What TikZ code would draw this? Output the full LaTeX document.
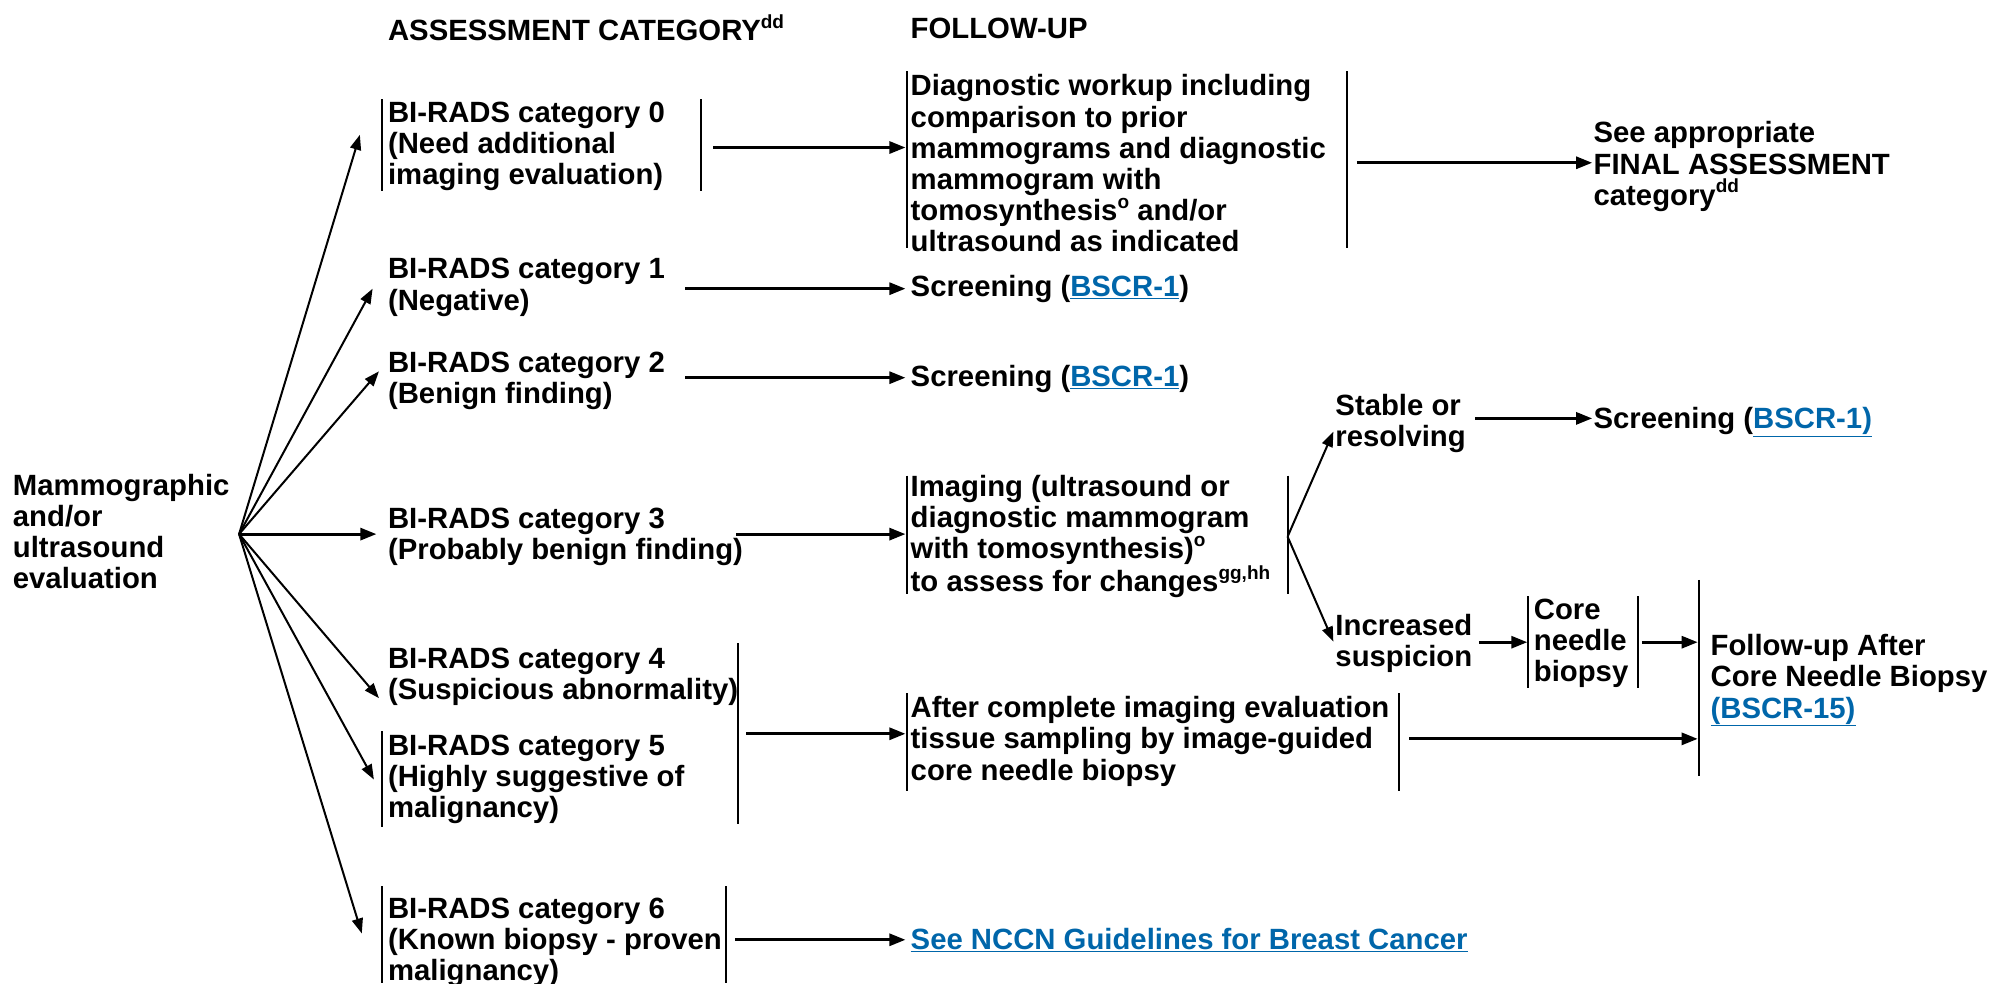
\documentclass[tikz,border=0pt]{standalone}
\usepackage{fontspec}
\setmainfont{Liberation Sans}
\usetikzlibrary{arrows.meta}
\definecolor{linkblue}{RGB}{0,102,170}
\newcommand{\lnk}[1]{\textcolor{linkblue}{\underline{#1}}}
\newcommand{\sups}[1]{\raisebox{0.42em}{\fontsize{19}{19}\selectfont #1}}
\begin{document}
\begin{tikzpicture}[x=1.2717pt,y=-1.2717pt,
  txt/.style={anchor=west,align=left,inner sep=0pt,font=\fontsize{29.3}{31.2}\selectfont\bfseries},
  bar/.style={line width=2pt},
  arr/.style={line width=2.8pt,-{Triangle[length=16pt,width=12pt]}},
  fanarr/.style={line width=2pt,-{Triangle[length=15pt,width=11pt]}}]
\useasboundingbox (0,0) rectangle (1568,773);

% headers
\node[txt] (h1) at (305,22) {ASSESSMENT CATEGORY\sups{dd}};
\node[txt] (h2) at (716,22) {FOLLOW-UP};

% source
\node[txt] (src) at (10,418) {Mammographic\\and/or\\ultrasound\\evaluation};
\coordinate (fan) at (188,420);

% categories
\node[txt] (c0) at (305,115) {BI-RADS category 0\\(Need additional\\imaging evaluation)};
\node[txt] (c1) at (305,226) {BI-RADS category 1\\(Negative)};
\node[txt] (c2) at (305,299.5) {BI-RADS category 2\\(Benign finding)};
\node[txt] (c3) at (305,422) {BI-RADS category 3\\(Probably benign finding)};
\node[txt] (c4) at (305,532) {BI-RADS category 4\\(Suspicious abnormality)};
\node[txt] (c5) at (305,613) {BI-RADS category 5\\(Highly suggestive of\\malignancy)};
\node[txt] (c6) at (305,741) {BI-RADS category 6\\(Known biopsy - proven\\malignancy)};

% follow-up
\node[txt] (dg) at (716,128.5) {Diagnostic workup including\\comparison to prior\\mammograms and diagnostic\\mammogram with\\tomosynthesis\sups{o} and/or\\ultrasound as indicated};
\node[txt] (fa) at (1253,131) {See appropriate\\FINAL ASSESSMENT\\category\sups{dd}};
\node[txt] (s1) at (716,227) {Screening (\lnk{BSCR-1})};
\node[txt] (s2) at (716,298) {Screening (\lnk{BSCR-1})};
\node[txt] (im) at (716,422) {Imaging (ultrasound or\\diagnostic mammogram\\with tomosynthesis)\sups{o}\\to assess for changes\sups{gg,hh}};
\node[txt] (st) at (1050,333) {Stable or\\resolving};
\node[txt] (s3) at (1253,332) {Screening (\lnk{BSCR-1)}};
\node[txt] (inc) at (1050,506) {Increased\\suspicion};
\node[txt] (cnb) at (1206,506) {Core\\needle\\biopsy};
\node[txt] (fu) at (1345,535) {Follow-up After\\Core Needle Biopsy\\\lnk{(BSCR-15)}};
\node[txt] (af) at (716,583) {After complete imaging evaluation\\tissue sampling by image-guided\\core needle biopsy};
\node[txt] (nccn) at (716,739) {\lnk{See NCCN Guidelines for Breast Cancer}};

% bars
\draw[bar] (300,78) -- (300,150);
\draw[bar] (551,78) -- (551,150);
\draw[bar] (713,56) -- (713,195);
\draw[bar] (1059,56) -- (1059,195);
\draw[bar] (713,374) -- (713,467);
\draw[bar] (1012.5,374) -- (1012.5,467);
\draw[bar] (580,506) -- (580,648);
\draw[bar] (300,575) -- (300,650);
\draw[bar] (713,545) -- (713,622);
\draw[bar] (1100,545) -- (1100,622);
\draw[bar] (1201.5,469) -- (1201.5,541);
\draw[bar] (1288,469) -- (1288,541);
\draw[bar] (1336,456) -- (1336,610);
\draw[bar] (300,697) -- (300,773);
\draw[bar] (571,697) -- (571,773);

% fan tips
\coordinate (t0) at (283,106);
\coordinate (t1) at (293,227);
\coordinate (t2) at (298,292);
\coordinate (t3) at (296,420);
\coordinate (t4) at (298,549);
\coordinate (t5) at (294,613);
\coordinate (t6) at (284.5,734);
\foreach \t in {t0,t1,t2,t4,t5,t6} \draw[fanarr] (fan) -- (\t);
\draw[arr] (fan) -- (t3);

% horizontal connectors
\coordinate (a0s) at (561,116); \coordinate (a0e) at (712,116);
\draw[arr] (a0s) -- (a0e);
\coordinate (ads) at (1067,128); \coordinate (ade) at (1252,128);
\draw[arr] (ads) -- (ade);
\coordinate (a1s) at (539,227); \coordinate (a1e) at (712,227);
\draw[arr] (a1s) -- (a1e);
\coordinate (a2s) at (539,297); \coordinate (a2e) at (712,297);
\draw[arr] (a2s) -- (a2e);
\coordinate (a3s) at (579,420); \coordinate (a3e) at (712,420);
\draw[arr] (a3s) -- (a3e);
\coordinate (a45s) at (587,577); \coordinate (a45e) at (712,577);
\draw[arr] (a45s) -- (a45e);
\coordinate (a6s) at (578,739); \coordinate (a6e) at (712,739);
\draw[arr] (a6s) -- (a6e);

% imaging branches
\coordinate (imo) at (1012.5,422);
\coordinate (tst) at (1048.5,339.5);
\coordinate (tinc) at (1048.5,504.6);
\draw[fanarr] (imo) -- (tst);
\draw[fanarr] (imo) -- (tinc);
\coordinate (ass) at (1160,329); \coordinate (ase) at (1252,329);
\draw[arr] (ass) -- (ase);
\coordinate (ais) at (1163,505); \coordinate (aie) at (1201,505);
\draw[arr] (ais) -- (aie);
\coordinate (acs) at (1291,505); \coordinate (ace) at (1335,505);
\draw[arr] (acs) -- (ace);
\coordinate (aas) at (1108,581); \coordinate (aae) at (1335,581);
\draw[arr] (aas) -- (aae);
\end{tikzpicture}
\end{document}
